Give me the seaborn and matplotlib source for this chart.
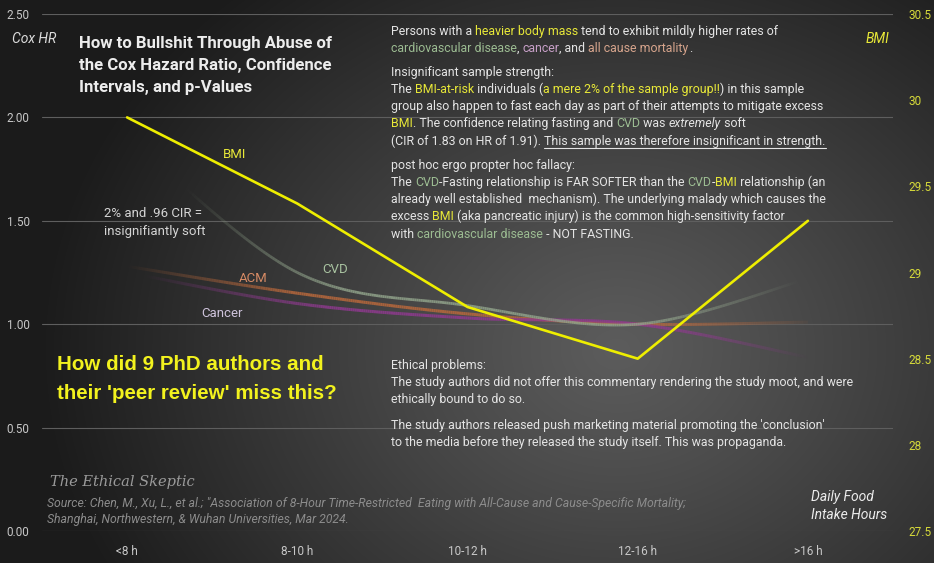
import numpy as np
import pandas as pd
import matplotlib
matplotlib.use("Agg")
import matplotlib.pyplot as plt
import seaborn as sns
from matplotlib.collections import LineCollection
from matplotlib.font_manager import FontProperties

# ---------------- data ----------------
categories = ["<8 h", "8-10 h", "10-12 h", "12-16 h", ">16 h"]
bmi = [29.9, 29.4, 28.8, 28.5, 29.3]
cvd_hr = [1.91, 1.25, 1.09, 1.00, 1.22]
acm_hr = [1.28, 1.15, 1.05, 1.00, 1.01]
cancer_hr = [1.25, 1.10, 1.03, 1.00, 0.84]
left_ticks = [0.0, 0.5, 1.0, 1.5, 2.0, 2.5]
right_ticks = [27.5, 28, 28.5, 29, 29.5, 30, 30.5]
right_tick_labels = ["27.5", "28", "28.5", "29", "29.5", "30", "30.5"]

W, H = 934, 563
sns.set_theme(style="dark")
plt.rcParams["font.family"] = ["Roboto", "DejaVu Sans"]

fig = plt.figure(figsize=(W / 100, H / 100), dpi=100)
fig.patch.set_facecolor("#262626")

# background radial gradient
yy, xx = np.mgrid[0:H, 0:W]
cx, cy = 0.66 * W, 0.62 * H
d = np.sqrt(((xx - cx) / (0.62 * W)) ** 2 + ((yy - cy) / (0.85 * H)) ** 2)
d = np.clip(d, 0, 1) ** 1.1
c0 = np.array([0x5c, 0x5c, 0x5c]) / 255
c1 = np.array([0x1b, 0x1b, 0x1b]) / 255
img = c0[None, None, :] * (1 - d[..., None]) + c1[None, None, :] * d[..., None]
bg = fig.add_axes([0, 0, 1, 1], zorder=-10)
bg.imshow(img, aspect="auto", extent=[0, 1, 0, 1], origin="upper")
bg.axis("off")

L, R, T, B = 42, 893, 14, 531
ax = fig.add_axes([L / W, 1 - B / H, (R - L) / W, (B - T) / H])
ax.set_facecolor("none")
ax.set_xlim(-0.5, 4.5)
ax.set_ylim(0, 2.5)
ax.set_yticks(left_ticks)
ax.set_yticklabels([f"{v:.2f}" for v in left_ticks])
ax.set_xticks(range(len(categories)))
ax.set_xticklabels(categories)
ax.tick_params(axis="y", colors="#c8c8c8", labelsize=8.5, length=0, pad=9)
ax.tick_params(axis="x", colors="#c8c8c8", labelsize=8.5, length=0, pad=10)
ax.grid(axis="y", color="#5e5e5e", linewidth=0.8)
ax.grid(axis="x", visible=False)
for s in ax.spines.values():
    s.set_visible(False)


def smooth(xs, ys, n=80):
    P = list(zip(xs, ys))
    ox, oy = [], []
    for i in range(len(P) - 1):
        p0 = P[i - 1] if i > 0 else P[i]
        p1, p2 = P[i], P[i + 1]
        p3 = P[i + 2] if i + 2 < len(P) else P[i + 1]
        for t in np.linspace(0, 1, n, endpoint=(i == len(P) - 2)):
            for k, out in ((0, ox), (1, oy)):
                a, b, c, e = p0[k], p1[k], p2[k], p3[k]
                out.append(0.5 * (2 * b + (-a + c) * t + (2 * a - 5 * b + 4 * c - e) * t ** 2
                                  + (-a + 3 * b - 3 * c + e) * t ** 3))
    return np.array(ox), np.array(oy)


def faded(axis, ys, color, a0, a1, b0, b1, lw=2.0, amax=0.85):
    sx, sy = smooth(range(len(ys)), ys)
    pts = np.column_stack([sx, sy]).reshape(-1, 1, 2)
    segs = np.concatenate([pts[:-1], pts[1:]], axis=1)
    mx = 0.5 * (sx[:-1] + sx[1:])
    al = np.clip((mx - a0) / (a1 - a0), 0, 1) * np.clip((b1 - mx) / (b1 - b0), 0, 1) * amax
    rgb = matplotlib.colors.to_rgb(color)
    cols = [(*rgb, a) for a in al]
    lc = LineCollection(segs, colors=cols, linewidths=lw, capstyle="butt", joinstyle="round")
    axis.add_collection(lc)


faded(ax, acm_hr, "#b8683c", 0.0, 1.0, 3.0, 4.1, lw=2.2)
faded(ax, cancer_hr, "#8e3a8e", 0.1, 1.2, 3.1, 4.0, lw=2.2)
faded(ax, cvd_hr, "#90a28a", 0.35, 1.3, 3.0, 3.95, lw=2.0)

ax2 = ax.twinx()
ax2.set_ylim(27.5, 30.5)
df = pd.DataFrame({"pos": range(len(categories)), "bmi": bmi})
sns.lineplot(data=df, x="pos", y="bmi", ax=ax2, color="#eeee00", linewidth=1.9)
ax2.set_xlim(-0.5, 4.5)
ax2.set_yticks(right_ticks)
ax2.set_yticklabels(right_tick_labels)
ax2.tick_params(axis="y", colors="#d6da3a", labelsize=8.5, length=0, pad=11)
ax2.set_xlabel("")
ax2.set_ylabel("")
ax2.grid(False)
for s in ax2.spines.values():
    s.set_visible(False)

renderer = fig.canvas.get_renderer()


def text_w(s, prop):
    w1 = renderer.get_text_width_height_descent("X" + s + "X", prop, ismath=False)[0]
    w0 = renderer.get_text_width_height_descent("XX", prop, ismath=False)[0]
    return w1 - w0


def fit_size(s, target, family, weight="normal", style="normal"):
    prop = FontProperties(family=family, size=10, weight=weight, style=style)
    w = text_w(s, prop)
    return 10 * target / w


def put(x, y, s, color, size, family, weight="normal", style="normal", ha="left"):
    return fig.text(x / W, 1 - y / H, s, color=color, fontsize=size, family=family,
                    weight=weight, style=style, ha=ha, va="baseline")


def rich(x, y, parts, size, family):
    cx_ = x
    for p in parts:
        s, col = p[0], p[1]
        style = p[2] if len(p) > 2 else "normal"
        ul = len(p) > 3 and p[3]
        put(cx_, y, s, col, size, family, style=style)
        prop = FontProperties(family=family, size=size, style=style)
        w = text_w(s, prop)
        if ul:
            fig.add_artist(plt.Line2D([cx_ / W, (cx_ + w) / W],
                                      [1 - (y + 2.5) / H, 1 - (y + 2.5) / H],
                                      color=col, linewidth=0.8))
        cx_ += w


BODY = ["Roboto", "DejaVu Sans"]
Wt = "#e4e4e4"
Y = "#e8e838"
G = "#9cbc92"
P = "#c8a0c8"
O = "#d6a48c"

bs = fit_size("Persons with a heavier body mass tend to exhibit mildly higher rates of", 388, BODY)

lines = [
    (35, [("Persons with a ", Wt), ("heavier body mass", Y), (" tend to exhibit mildly higher rates of", Wt)]),
    (52, [("cardiovascular disease", G), (", ", Wt), ("cancer", P), (", and ", Wt), ("all cause mortality", O), (".", Wt)]),
    (76, [("Insignificant sample strength:", Wt)]),
    (93, [("The ", Wt), ("BMI-at-risk", Y), (" individuals (", Wt), ("a mere 2% of the sample group!!", Y), (") in this sample", Wt)]),
    (110, [("group also happen to fast each day as part of their attempts to mitigate excess", Wt)]),
    (127, [("BMI", Y), (". The confidence relating fasting and ", Wt), ("CVD", G), (" was ", Wt), ("extremely", Wt, "italic"), (" soft", Wt)]),
    (145, [("(CIR of 1.83 on HR of 1.91). ", Wt), ("This sample was therefore insignificant in strength.", Wt, "normal", True)]),
    (169, [("post hoc ergo propter hoc fallacy:", Wt)]),
    (186, [("The ", Wt), ("CVD", G), ("-Fasting relationship is FAR SOFTER than the ", Wt), ("CVD", G), ("-", Wt), ("BMI", Y), (" relationship (an", Wt)]),
    (203, [("already well established  mechanism). The underlying malady which causes the", Wt)]),
    (220, [("excess ", Wt), ("BMI", Y), (" (aka pancreatic injury) is the common high-sensitivity factor", Wt)]),
    (238, [("with ", Wt), ("cardiovascular disease", G), (" - NOT FASTING.", Wt)]),
    (369, [("Ethical problems:", Wt)]),
    (386, [("The study authors did not offer this commentary rendering the study moot, and were", Wt)]),
    (403, [("ethically bound to do so.", Wt)]),
    (429, [("The study authors released push marketing material promoting the 'conclusion'", Wt)]),
    (446, [("to the media before they released the study itself. This was propaganda.", Wt)]),
]
for yb, parts in lines:
    rich(391, yb, parts, bs, BODY)

# title
TF = ["Roboto", "DejaVu Sans"]
ts = fit_size("How to Bullshit Through Abuse of", 254, TF, weight="bold")
for yb, s in [(48, "How to Bullshit Through Abuse of"),
              (70, "the Cox Hazard Ratio, Confidence"),
              (92, "Intervals, and p-Values")]:
    put(79, yb, s, "#ececec", ts, TF, weight="bold")

# yellow question
QF = ["Liberation Sans", "DejaVu Sans"]
qs = fit_size("their 'peer review' miss this?", 281, QF, weight="bold")
put(57, 370, "How did 9 PhD authors and", "#f2f21e", qs, QF, weight="bold")
put(57, 399, "their 'peer review' miss this?", "#f2f21e", qs, QF, weight="bold")

# axis titles
put(12, 43, "Cox HR", "#dcdcdc", 10, BODY, style="italic")
put(866, 43, "BMI", Y, 10, BODY, style="italic")
put(811, 501, "Daily Food", "#ececec", 10, BODY, style="italic")
put(811, 519, "Intake Hours", "#ececec", 10, BODY, style="italic")

# series labels
put(104, 217, "2% and .96 CIR =", "#d4d4d4", 9.5, BODY)
put(104, 235, "insignifiantly soft", "#d4d4d4", 9.5, BODY)
put(235, 158, "BMI", Y, 9.5, BODY, ha="center")
put(335, 273, "CVD", "#a8c2a0", 9.5, BODY, ha="center")
put(253, 282, "ACM", "#d68a64", 9.5, BODY, ha="center")
put(222, 317, "Cancer", "#cfc4dc", 9.5, BODY, ha="center")

# credits
put(50, 486, "The Ethical Skeptic", "#9a9a9a", 10.5, ["DejaVu Serif"], style="italic")
ss = fit_size('Source: Chen, M., Xu, L., et al.; "Association of 8-Hour Time-Restricted  Eating with All-Cause and Cause-Specific Mortality;', 636, BODY, style="italic")
put(47, 507, 'Source: Chen, M., Xu, L., et al.; "Association of 8-Hour Time-Restricted  Eating with All-Cause and Cause-Specific Mortality;', "#8c8c8c", ss, BODY, style="italic")
put(47, 523, "Shanghai, Northwestern, & Wuhan Universities, Mar 2024.", "#8c8c8c", ss, BODY, style="italic")

fig.savefig("out.png", dpi=100, facecolor=fig.get_facecolor())
